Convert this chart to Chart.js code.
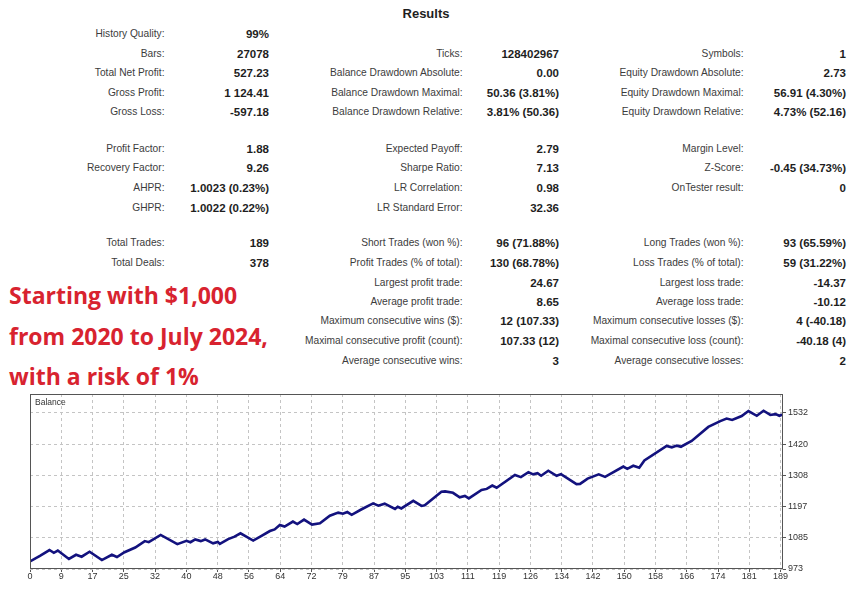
<!DOCTYPE html>
<html>
<head>
<meta charset="utf-8">
<script src="https://cdn.jsdelivr.net/npm/chart.js@4.4.1/dist/chart.umd.min.js"></script>
<style>
  body { margin: 0; width: 863px; height: 600px; background: #fff; position: relative; overflow: hidden;
         font-family: "Liberation Sans", Arial, sans-serif; }
  .lbl { position: absolute; white-space: nowrap; font-size: 10.2px; line-height: 14px; color: #3c3c3c; text-align: right; }
  .val { position: absolute; white-space: nowrap; font-size: 11.5px; line-height: 14px; color: #1e1e1e; font-weight: bold; text-align: right; }
  #title { position: absolute; left: 0; width: 852px; top: 6px; text-align: center; font-weight: bold; font-size: 13px; color: #1e1e1e; }
  #note { position: absolute; left: 9px; top: 275px; font-family: "Open Sans", sans-serif; font-weight: 700;
          font-size: 23px; line-height: 40.5px; color: #d8232f; }
  #chartBox { position: absolute; left: 0; top: 384px; width: 863px; height: 216px; }
  #balLabel { position: absolute; left: 35px; top: 397px; font-size: 8.5px; color: #333; }
</style>
</head>
<body>
<div id="title">Results</div>
<div id="stats"></div>
<div id="note">Starting with $1,000<br>from 2020 to July 2024,<br>with a risk of 1%</div>
<div id="chartBox"><canvas id="balanceChart"></canvas></div>
<div id="balLabel">Balance</div>
<script>
// balance curve (trade number, balance)
const balanceTrade = [0, 2.5, 4.9, 6, 7, 9.8, 11.6, 13, 15, 18.1, 20.6, 21.9, 23.8, 26.5, 28.9, 29.9, 32.9, 37.1, 39.4, 40.4,
  41.6, 43, 44.1, 46.1, 47.3, 47.8, 49.9, 51.5, 53, 56.2, 58.3, 60.4, 61.6, 62.9, 64.1, 66.2, 67.3, 69, 71, 73,
  75.5, 77.6, 78.8, 79.9, 81, 83.5, 86.4, 87.7, 89.3, 91.9, 92.6, 93.5, 96.5, 98.6, 99.4, 103.6, 104.5, 106.5, 108.2, 109.5,
  110.5, 113.7, 115, 116.4, 117.5, 122.1, 123.6, 125.5, 126.7, 127.8, 128.7, 130.5, 132.6, 133.7, 137.6, 138.5, 140.4, 143.2, 144.8, 149.4,
  150.4, 151.9, 153.4, 154.7, 160.3, 161.6, 162.9, 163.9, 166.6, 170.8, 173.8, 175.4, 176.8, 179.2, 180.9, 183, 184.7, 186.4, 187.7, 188.7, 189.6];
const balanceValue = [1000, 1020, 1041, 1031, 1039, 1009, 1024, 1017, 1035, 1005, 1024, 1016, 1033, 1050, 1073, 1069, 1095, 1062, 1074, 1069,
  1079, 1073, 1079, 1065, 1070, 1063, 1080, 1089, 1101, 1075, 1092, 1109, 1115, 1131, 1125, 1143, 1134, 1150, 1132, 1137,
  1164, 1175, 1171, 1177, 1167, 1187, 1208, 1200, 1207, 1188, 1196, 1190, 1217, 1199, 1201, 1250, 1251, 1246, 1230, 1235,
  1226, 1256, 1260, 1272, 1264, 1310, 1302, 1320, 1312, 1316, 1307, 1325, 1307, 1313, 1277, 1278, 1297, 1312, 1303, 1340,
  1332, 1343, 1336, 1362, 1414, 1409, 1415, 1411, 1432, 1482, 1503, 1512, 1507, 1521, 1539, 1522, 1540, 1525, 1528, 1522, 1527];

const xTickLabels = ['0', '9', '17', '25', '32', '40', '48', '56', '64', '72', '79', '87', '95', '103',
  '111', '119', '126', '134', '142', '150', '158', '166', '174', '181', '189'];
const yTickValues = [973, 1085, 1197, 1308, 1420, 1532];

// results table: [row y, [label, value] per column]
const statRows = [
  [34.3, [['History Quality:', '99%'], null, null]],
  [53.8, [['Bars:', '27078'], ['Ticks:', '128402967'], ['Symbols:', '1']]],
  [73.3, [['Total Net Profit:', '527.23'], ['Balance Drawdown Absolute:', '0.00'], ['Equity Drawdown Absolute:', '2.73']]],
  [92.8, [['Gross Profit:', '1 124.41'], ['Balance Drawdown Maximal:', '50.36 (3.81%)'], ['Equity Drawdown Maximal:', '56.91 (4.30%)']]],
  [112.3, [['Gross Loss:', '-597.18'], ['Balance Drawdown Relative:', '3.81% (50.36)'], ['Equity Drawdown Relative:', '4.73% (52.16)']]],
  [148.7, [['Profit Factor:', '1.88'], ['Expected Payoff:', '2.79'], ['Margin Level:', '']]],
  [168.3, [['Recovery Factor:', '9.26'], ['Sharpe Ratio:', '7.13'], ['Z-Score:', '-0.45 (34.73%)']]],
  [188, [['AHPR:', '1.0023 (0.23%)'], ['LR Correlation:', '0.98'], ['OnTester result:', '0']]],
  [207.5, [['GHPR:', '1.0022 (0.22%)'], ['LR Standard Error:', '32.36'], null]],
  [243.3, [['Total Trades:', '189'], ['Short Trades (won %):', '96 (71.88%)'], ['Long Trades (won %):', '93 (65.59%)']]],
  [262.7, [['Total Deals:', '378'], ['Profit Trades (% of total):', '130 (68.78%)'], ['Loss Trades (% of total):', '59 (31.22%)']]],
  [282.7, [null, ['Largest profit trade:', '24.67'], ['Largest loss trade:', '-14.37']]],
  [302, [null, ['Average profit trade:', '8.65'], ['Average loss trade:', '-10.12']]],
  [321.3, [null, ['Maximum consecutive wins ($):', '12 (107.33)'], ['Maximum consecutive losses ($):', '4 (-40.18)']]],
  [341.3, [null, ['Maximal consecutive profit (count):', '107.33 (12)'], ['Maximal consecutive loss (count):', '-40.18 (4)']]],
  [361, [null, ['Average consecutive wins:', '3'], ['Average consecutive losses:', '2']]]
];
const labelRight = [164.5, 462.5, 743.5];
const valueRight = [269, 559, 846];

const stats = document.getElementById('stats');
statRows.forEach(function (row) {
  row[1].forEach(function (cell, c) {
    if (!cell) return;
    const l = document.createElement('div');
    l.className = 'lbl';
    l.textContent = cell[0];
    l.style.right = (863 - labelRight[c]) + 'px';
    l.style.top = (row[0] - 7) + 'px';
    stats.appendChild(l);
    const v = document.createElement('div');
    v.className = 'val';
    v.textContent = cell[1];
    v.style.right = (863 - valueRight[c]) + 'px';
    v.style.top = (row[0] - 7) + 'px';
    stats.appendChild(v);
  });
});

const framePlugin = {
  id: 'frame',
  afterDraw(chart) {
    const { ctx, chartArea: a } = chart;
    ctx.save();
    ctx.strokeStyle = '#555';
    ctx.lineWidth = 1;
    ctx.strokeRect(a.left + 0.5, a.top + 0.5, a.width - 1, a.height - 1);
    ctx.restore();
  }
};

const tickFont = { family: '"Liberation Sans", Arial, sans-serif', size: 9 };

new Chart(document.getElementById('balanceChart').getContext('2d'), {
  type: 'line',
  data: {
    datasets: [{
      label: 'Balance',
      data: balanceTrade.map((t, i) => ({ x: t, y: balanceValue[i] })),
      borderColor: '#13127e',
      borderWidth: 2.6,
      pointRadius: 0,
      tension: 0,
      fill: false
    }]
  },
  options: {
    responsive: true,
    maintainAspectRatio: false,
    animation: false,
    layout: { padding: { left: 30, top: 10, right: 0, bottom: 0 } },
    plugins: { legend: { display: false }, tooltip: { enabled: false } },
    scales: {
      x: {
        type: 'linear',
        min: 0,
        max: 189.6,
        afterBuildTicks: s => { s.ticks = xTickLabels.map((l, k) => ({ value: k * 189 / 24 })); },
        afterFit: s => { s.height = 31; },
        ticks: { autoSkip: false, maxRotation: 0, padding: -1, color: '#333', font: tickFont,
                 callback: (v, i) => xTickLabels[i] },
        grid: { color: '#c4c4c4', tickColor: '#555', tickLength: 3 },
        border: { display: false, dash: [3, 3] }
      },
      y: {
        position: 'right',
        min: 973,
        max: 1600,
        afterBuildTicks: s => { s.ticks = yTickValues.map(v => ({ value: v })); },
        afterFit: s => { s.width = 80; },
        ticks: { padding: 2, color: '#333', font: tickFont, callback: v => String(v) },
        grid: { color: '#c4c4c4', tickColor: '#555', tickLength: 3 },
        border: { display: false, dash: [3, 3] }
      }
    }
  },
  plugins: [framePlugin]
});
</script>
</body>
</html>
